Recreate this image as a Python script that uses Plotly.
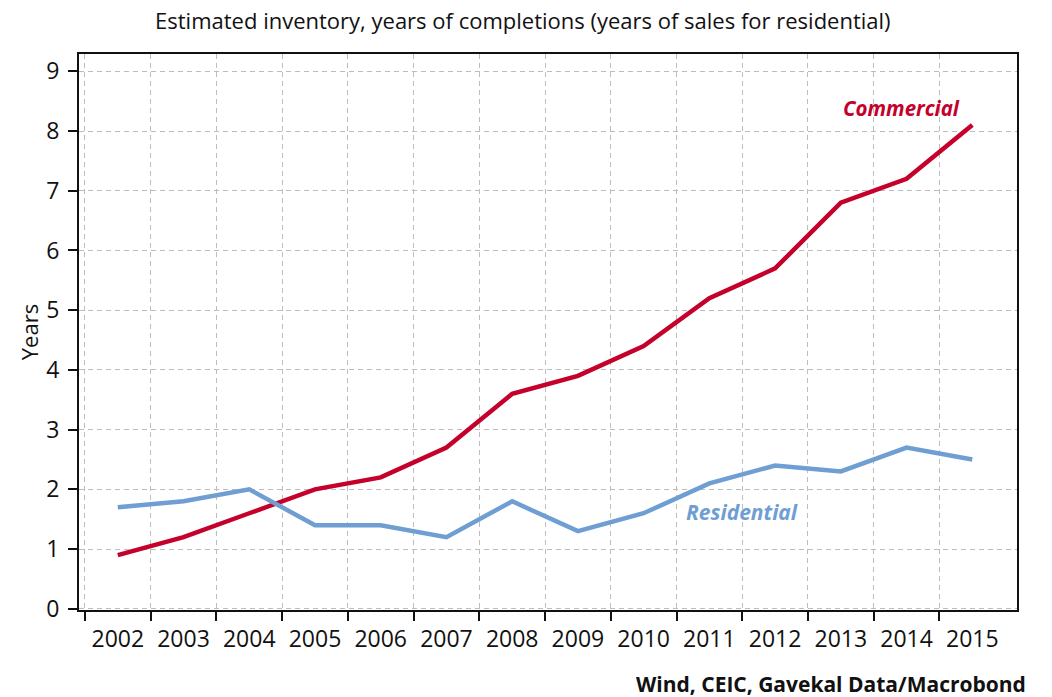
import plotly.graph_objects as go

# Inventory estimates, in years
years = [2002, 2003, 2004, 2005, 2006, 2007, 2008, 2009, 2010, 2011, 2012, 2013, 2014, 2015]
commercial = [0.9, 1.2, 1.6, 2.0, 2.2, 2.7, 3.6, 3.9, 4.4, 5.2, 5.7, 6.8, 7.2, 8.1]
residential = [1.7, 1.8, 2.0, 1.4, 1.4, 1.2, 1.8, 1.3, 1.6, 2.1, 2.4, 2.3, 2.7, 2.5]
year_labels = [str(y) for y in years]
y_ticks = list(range(0, 10))

RED = "#C4002B"
BLUE = "#6F9ED3"
FONT = "Open Sans"
GRID = "#BDBDBD"

x_range = [2001.41, 2015.68]
boundaries = [y - 0.5 for y in years]

fig = go.Figure()
fig.add_trace(go.Scatter(x=years, y=commercial, mode="lines", name="Commercial",
                         line=dict(color=RED, width=4.5), showlegend=False))
fig.add_trace(go.Scatter(x=years, y=residential, mode="lines", name="Residential",
                         line=dict(color=BLUE, width=4.5), showlegend=False))

fig.update_layout(
    width=1052, height=697,
    margin=dict(l=79, r=35, t=54, b=87),
    paper_bgcolor="white", plot_bgcolor="white",
    font=dict(family=FONT, color="#111111"),
    title=dict(text="Estimated inventory, years of completions (years of sales for residential)",
               x=0.497, xref="container", xanchor="center", y=0.97, yanchor="middle",
               font=dict(size=22, family=FONT, color="#111111")),
    xaxis=dict(range=x_range, tickmode="array", tickvals=boundaries, showticklabels=False,
               ticks="outside", ticklen=9, tickwidth=1.5, tickcolor="#111111",
               showgrid=True, gridcolor=GRID, gridwidth=1.3, griddash="5px,4px",
               showline=True, linecolor="#111111", linewidth=2, mirror=True,
               zeroline=False),
    xaxis2=dict(range=x_range, overlaying="x", side="bottom", tickmode="array",
                tickvals=years, ticktext=year_labels, ticks="", showgrid=False,
                showline=False, zeroline=False, ticklabelstandoff=13,
                tickfont=dict(size=23, family=FONT, color="#111111")),
    yaxis=dict(range=[-0.02, 9.29], tickmode="array", tickvals=y_ticks,
               ticks="outside", ticklen=9, tickwidth=1.5, tickcolor="#111111",
               showgrid=True, gridcolor=GRID, gridwidth=1.3, griddash="5px,4px",
               showline=True, linecolor="#111111", linewidth=2, mirror=True,
               zeroline=False, ticklabelstandoff=4,
               tickfont=dict(size=23, family=FONT, color="#111111"),
               title=dict(text="Years", standoff=2, font=dict(size=22, family=FONT, color="#111111"))),
)

# dummy trace to activate the label axis
fig.add_trace(go.Scatter(x=[years[0]], y=[None], xaxis="x2", showlegend=False, hoverinfo="skip"))

fig.add_annotation(x=2013.92, y=8.39, xref="x", yref="y", text="<b><i>Commercial</i></b>",
                   showarrow=False, font=dict(size=20.5, family=FONT, color=RED))
fig.add_annotation(x=2011.5, y=1.62, xref="x", yref="y", text="<b><i>Residential</i></b>",
                   showarrow=False, font=dict(size=21, family=FONT, color=BLUE))
fig.add_annotation(x=1.0117, y=-0.133, xref="paper", yref="paper",
                   text="<b>Wind, CEIC, Gavekal Data/Macrobond</b>",
                   showarrow=False, xanchor="right", yanchor="middle",
                   font=dict(size=21, family=FONT, color="#111111"))

fig.write_html("out.html")
